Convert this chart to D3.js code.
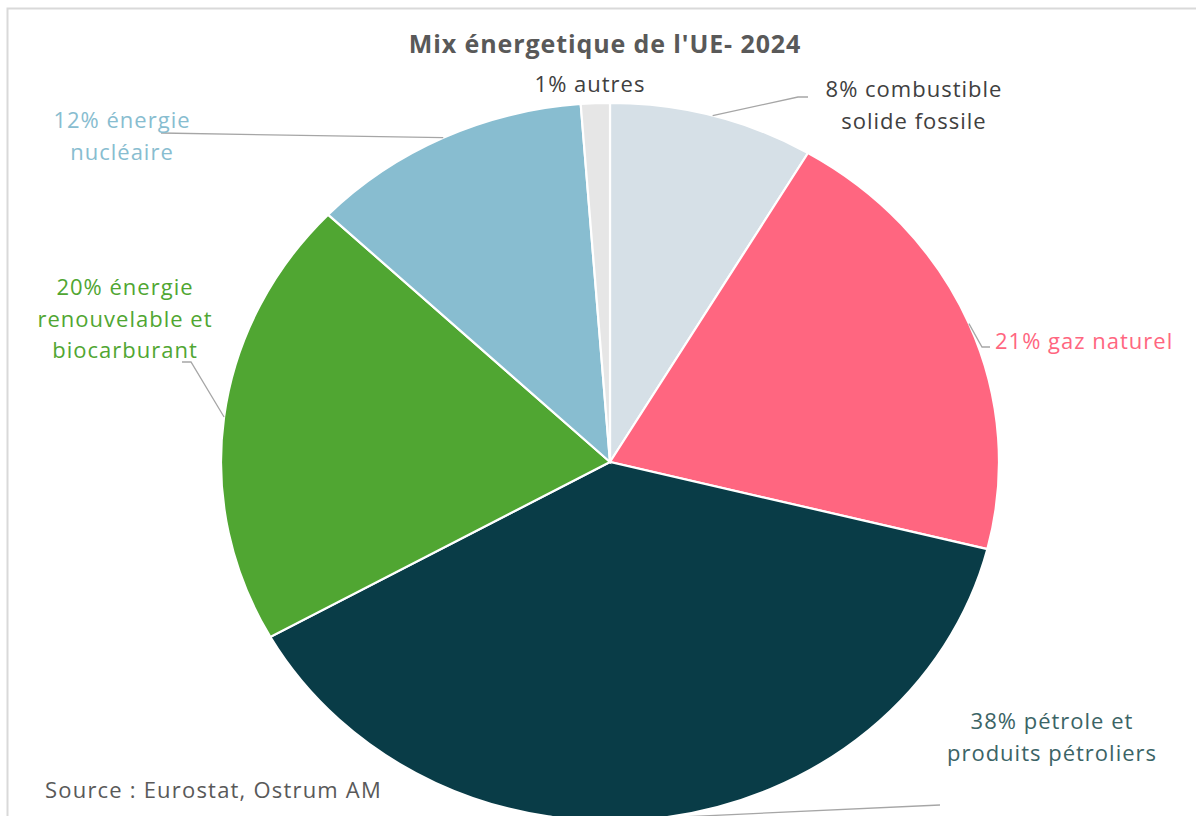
<!DOCTYPE html>
<html>
<head>
<meta charset="utf-8">
<script src="https://cdn.jsdelivr.net/npm/d3@7"></script>
<style>
  body { margin: 0; background: #fff; }
  svg { display: block; }
</style>
</head>
<body>
<div id="chart"></div>
<script>
// Data
var categories = ["combustible solide fossile", "gaz naturel", "pétrole et produits pétroliers",
                  "énergie renouvelable et biocarburant", "énergie nucléaire", "autres"];
var values = [8.5, 20.4, 38.0, 20.2, 11.7, 1.2];
var labelLines = [
  ["8% combustible", "solide fossile"],
  ["21% gaz naturel"],
  ["38% pétrole et", "produits pétroliers"],
  ["20% énergie", "renouvelable et", "biocarburant"],
  ["12% énergie", "nucléaire"],
  ["1% autres"]
];
var colors = ["#D6E0E7", "#FF6680", "#093C47", "#50A632", "#88BDD0", "#E6E6E6"];
var labelColors = ["#404040", "#FF6680", "#3B6466", "#50A632", "#88BDD0", "#404040"];

var svgWidth = 1196;
var svgHeight = 816;

// pie geometry (the original is slightly stretched horizontally)
var cx = 610, cy = 462;
var ry = 359, rx = 389;

// label layout: text anchor x, first baseline, alignment, leader elbow points
var layout = [
  { x: 914, y: 97, anchor: "middle", leader: [[798, 97], [808, 97]] },
  { x: 995, y: 349, anchor: "start", leader: [[982, 347], [990, 347]] },
  { x: 1052, y: 729, anchor: "middle", leader: [[940, 805]] },
  { x: 125, y: 295, anchor: "middle", leader: [[191, 362], [182, 362]] },
  { x: 122, y: 128, anchor: "middle", leader: [[161, 133]] },
  { x: 590, y: 92, anchor: "middle", leader: null }
];
var lineHeight = 31.5;

var svg = d3.select("#chart")
  .append("svg")
  .attr("width", svgWidth)
  .attr("height", svgHeight);

// frame
svg.append("rect")
  .attr("x", 7.5)
  .attr("y", 8.5)
  .attr("width", svgWidth + 20)
  .attr("height", svgHeight + 20)
  .attr("fill", "#fff")
  .attr("stroke", "#D9D9D9")
  .attr("stroke-width", 2);

// title
svg.append("text")
  .attr("x", 605)
  .attr("y", 53)
  .attr("text-anchor", "middle")
  .attr("font-family", "'Open Sans', sans-serif")
  .attr("font-size", "25px")
  .attr("font-weight", "700")
  .attr("letter-spacing", "0.9px")
  .attr("fill", "#595959")
  .text("Mix énergetique de l'UE- 2024");

var pie = d3.pie().sort(null).value(d => d);
var arcs = pie(values);

var arc = d3.arc().innerRadius(0).outerRadius(ry);

var pieGroup = svg.append("g")
  .attr("transform", `translate(${cx}, ${cy}) scale(${rx / ry}, 1)`);

pieGroup.selectAll("path")
  .data(arcs)
  .enter()
  .append("path")
  .attr("d", arc)
  .attr("fill", (d, i) => colors[i])
  .attr("stroke", "#fff")
  .attr("stroke-width", 2.2)
  .attr("vector-effect", "non-scaling-stroke");

// leader lines start on the pie edge at the slice mid angle
arcs.forEach(function(a, i) {
  var L = layout[i];
  if (!L.leader) return;
  var mid = (a.startAngle + a.endAngle) / 2;
  var start = [cx + rx * Math.sin(mid), cy - ry * Math.cos(mid)];
  var pts = [start].concat(L.leader);
  svg.append("path")
    .attr("d", d3.line()(pts))
    .attr("fill", "none")
    .attr("stroke", "#A6A6A6")
    .attr("stroke-width", 1.3);
});

// labels
arcs.forEach(function(a, i) {
  var L = layout[i];
  var t = svg.append("text")
    .attr("text-anchor", L.anchor)
    .attr("font-family", "'Open Sans', sans-serif")
    .attr("font-size", "22px")
    .attr("letter-spacing", "1px")
    .attr("fill", labelColors[i]);
  labelLines[i].forEach(function(line, j) {
    t.append("tspan")
      .attr("x", L.x)
      .attr("y", L.y + j * lineHeight)
      .text(line);
  });
});

// source
svg.append("text")
  .attr("x", 45)
  .attr("y", 798)
  .attr("font-family", "'Open Sans', sans-serif")
  .attr("font-size", "22px")
  .attr("letter-spacing", "1.2px")
  .attr("fill", "#595959")
  .text("Source : Eurostat, Ostrum AM");
</script>
</body>
</html>
